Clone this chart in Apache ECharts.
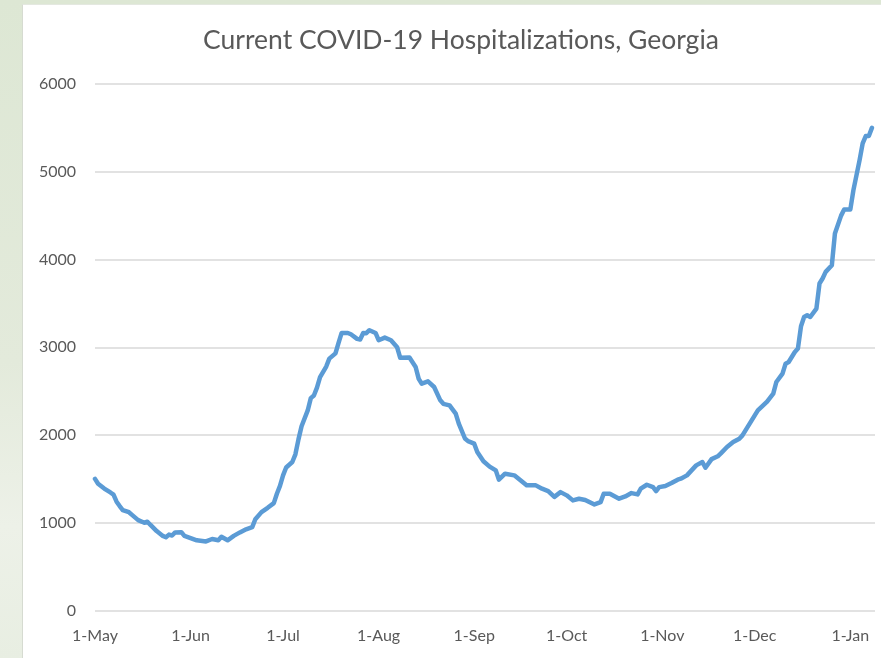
<!DOCTYPE html>
<html>
<head>
<meta charset="utf-8">
<script src="https://cdn.jsdelivr.net/npm/echarts@6/dist/echarts.min.js"></script>
<style>
  html, body { margin: 0; padding: 0; width: 881px; height: 658px; overflow: hidden; }
  body { background: linear-gradient(to bottom, #dde7d4 0%, #e3eadb 55%, #edf1e8 80%, #e8eee2 100%); position: relative; }
  #panel { position: absolute; left: 22px; top: 4px; width: 859px; height: 654px; background: #ffffff; border-left: 1px solid #d6dbd1; border-top: 1px solid #e4e8e0; box-sizing: border-box; }
  #chart { position: absolute; left: 0; top: 0; width: 881px; height: 658px; }
</style>
</head>
<body>
<div id="panel"></div>
<div id="chart"></div>
<script>
const chartTitle = 'Current COVID-19 Hospitalizations, Georgia';
const startDate = '2020-05-01';
const endDate = '2021-01-09';

const dates = [
  '2020-05-01','2020-05-02','2020-05-04','2020-05-06','2020-05-07','2020-05-08','2020-05-09','2020-05-10','2020-05-12','2020-05-13',
  '2020-05-15','2020-05-17','2020-05-18','2020-05-19','2020-05-21','2020-05-23','2020-05-24','2020-05-25','2020-05-26','2020-05-27',
  '2020-05-29','2020-05-30','2020-06-01','2020-06-03','2020-06-06','2020-06-08','2020-06-10','2020-06-11','2020-06-13','2020-06-15',
  '2020-06-17','2020-06-19','2020-06-21','2020-06-22','2020-06-24','2020-06-26','2020-06-28','2020-06-29','2020-06-30',
  '2020-07-01','2020-07-02','2020-07-04','2020-07-05','2020-07-06','2020-07-07','2020-07-09','2020-07-10','2020-07-11','2020-07-12',
  '2020-07-13','2020-07-15','2020-07-16','2020-07-18','2020-07-19','2020-07-20','2020-07-22','2020-07-23','2020-07-25','2020-07-26',
  '2020-07-27','2020-07-28','2020-07-29','2020-07-31',
  '2020-08-01','2020-08-03','2020-08-05','2020-08-07','2020-08-08','2020-08-11','2020-08-13','2020-08-14','2020-08-15','2020-08-17',
  '2020-08-19','2020-08-21','2020-08-22','2020-08-24','2020-08-26','2020-08-27','2020-08-29','2020-08-30',
  '2020-09-01','2020-09-02','2020-09-04','2020-09-06','2020-09-08','2020-09-09','2020-09-11','2020-09-14','2020-09-16','2020-09-18',
  '2020-09-21','2020-09-23','2020-09-25','2020-09-27','2020-09-29',
  '2020-10-01','2020-10-03','2020-10-05','2020-10-07','2020-10-10','2020-10-12','2020-10-13','2020-10-15','2020-10-18','2020-10-20',
  '2020-10-22','2020-10-24','2020-10-25','2020-10-27','2020-10-29','2020-10-30','2020-10-31',
  '2020-11-02','2020-11-04','2020-11-06','2020-11-07','2020-11-09','2020-11-12','2020-11-14','2020-11-15','2020-11-17','2020-11-19',
  '2020-11-20','2020-11-22','2020-11-24','2020-11-26','2020-11-27','2020-11-29',
  '2020-12-01','2020-12-02','2020-12-05','2020-12-07','2020-12-08','2020-12-10','2020-12-11','2020-12-12','2020-12-13','2020-12-14',
  '2020-12-15','2020-12-16','2020-12-17','2020-12-18','2020-12-19','2020-12-21','2020-12-22','2020-12-23','2020-12-24','2020-12-26',
  '2020-12-27','2020-12-29','2020-12-30',
  '2021-01-01','2021-01-02','2021-01-04','2021-01-05','2021-01-06','2021-01-07','2021-01-08'
];

const hospitalized = [
  1500,1445,1390,1345,1320,1240,1190,1145,1120,1090,
  1030,1000,1012,975,905,850,835,865,855,890,
  893,850,825,800,787,815,800,840,800,850,
  890,925,950,1040,1121,1170,1224,1330,1420,
  1540,1630,1692,1780,1950,2100,2280,2420,2450,2540,
  2660,2780,2870,2930,3050,3163,3163,3148,3095,3088,
  3163,3160,3194,3163,
  3080,3110,3080,3000,2880,2882,2775,2640,2585,2612,
  2547,2395,2355,2338,2243,2129,1960,1930,
  1901,1806,1700,1640,1597,1491,1559,1540,1483,1426,
  1426,1388,1361,1295,1349,
  1312,1255,1274,1260,1209,1235,1331,1331,1274,1300,
  1338,1323,1388,1433,1406,1361,1406,
  1418,1452,1491,1502,1540,1654,1692,1627,1725,1757,
  1790,1863,1920,1958,1996,2110,
  2224,2281,2380,2471,2604,2699,2813,2832,2889,2946,
  2985,3240,3345,3365,3345,3441,3726,3783,3859,3935,
  4297,4500,4570,
  4570,4791,5133,5323,5407,5407,5500
];

const tickDates = ['2020-05-01','2020-06-01','2020-07-01','2020-08-01','2020-09-01','2020-10-01','2020-11-01','2020-12-01','2021-01-01'];
const tickLabels = ['1-May','1-Jun','1-Jul','1-Aug','1-Sep','1-Oct','1-Nov','1-Dec','1-Jan'];
const yTicks = [0, 1000, 2000, 3000, 4000, 5000, 6000];

function dayIndex(s) {
  const p = s.split('-').map(Number);
  const b = startDate.split('-').map(Number);
  return Math.round((Date.UTC(p[0], p[1] - 1, p[2]) - Date.UTC(b[0], b[1] - 1, b[2])) / 86400000);
}

const seriesData = dates.map((d, i) => [dayIndex(d), hospitalized[i]]);
const tickPos = tickDates.map(dayIndex);
const labelMap = {};
tickPos.forEach((p, i) => { labelMap[p] = tickLabels[i]; });

const chart = echarts.init(document.getElementById('chart'), null, { renderer: 'canvas' });
const font = 'Lato, "Open Sans", sans-serif';
chart.setOption({
  backgroundColor: 'transparent',
  animation: false,
  title: {
    text: chartTitle,
    left: 456, top: 22, textAlign: 'center',
    textStyle: { fontFamily: font, fontSize: 26.5, fontWeight: 'normal', color: '#595959' }
  },
  grid: { left: 95, right: 6, top: 84, bottom: 47.5, containLabel: false },
  xAxis: {
    type: 'value',
    min: 0,
    max: dayIndex(endDate),
    axisLine: { show: false },
    axisTick: { show: false },
    splitLine: { show: false },
    axisLabel: {
      customValues: tickPos,
      formatter: v => labelMap[v] || '',
      margin: 17,
      fontFamily: font, fontSize: 16, color: '#595959'
    }
  },
  yAxis: {
    type: 'value',
    min: yTicks[0],
    max: yTicks[yTicks.length - 1],
    interval: 1000,
    axisLine: { show: false },
    axisTick: { show: false },
    splitLine: { lineStyle: { color: '#d9d9d9', width: 1.5 } },
    axisLabel: { margin: 19, fontFamily: font, fontSize: 16, color: '#595959', formatter: v => String(v) }
  },
  series: [{
    type: 'line',
    data: seriesData,
    showSymbol: false,
    smooth: false,
    lineStyle: { color: '#5b9bd5', width: 4.5, cap: 'round', join: 'round' }
  }]
});
</script>
</body>
</html>
